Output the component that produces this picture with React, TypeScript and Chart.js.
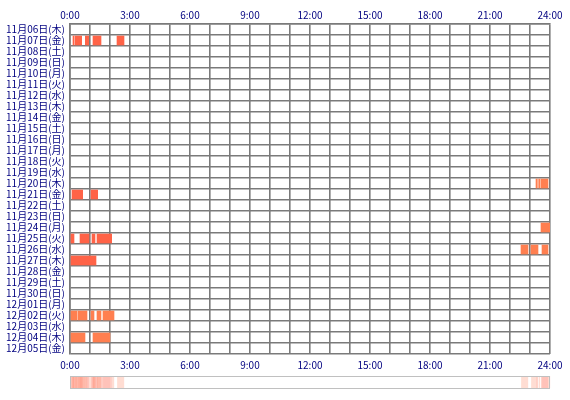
import React, { useEffect, useRef } from "react";
import { Chart, registerables } from "chart.js";

Chart.register(...registerables);

const days: string[] = [
  "11月06日(木)", "11月07日(金)", "11月08日(土)", "11月09日(日)", "11月10日(月)",
  "11月11日(火)", "11月12日(水)", "11月13日(木)", "11月14日(金)", "11月15日(土)",
  "11月16日(日)", "11月17日(月)", "11月18日(火)", "11月19日(水)", "11月20日(木)",
  "11月21日(金)", "11月22日(土)", "11月23日(日)", "11月24日(月)", "11月25日(火)",
  "11月26日(水)", "11月27日(木)", "11月28日(金)", "11月29日(土)", "11月30日(日)",
  "12月01日(月)", "12月02日(火)", "12月03日(水)", "12月04日(木)", "12月05日(金)",
];

// spans in minutes after midnight: [day, start, end]
const redSpans: [string, number, number][] = [
  ["11月07日(金)", 9, 12], ["11月07日(金)", 15, 35], ["11月07日(金)", 46, 56],
  ["11月07日(金)", 69, 93], ["11月07日(金)", 141, 162],
  ["11月21日(金)", 6, 38], ["11月21日(金)", 63, 83],
  ["11月25日(火)", 3, 12], ["11月25日(火)", 30, 57], ["11月25日(火)", 66, 75],
  ["11月25日(火)", 81, 125],
  ["11月27日(木)", 3, 78],
];

const orangeSpans: [string, number, number][] = [
  ["11月20日(木)", 1398, 1402], ["11月20日(木)", 1406, 1410], ["11月20日(木)", 1413, 1434],
  ["11月24日(月)", 1413, 1440],
  ["11月26日(水)", 1353, 1374], ["11月26日(水)", 1383, 1404], ["11月26日(水)", 1416, 1434],
  ["12月02日(火)", 3, 21], ["12月02日(火)", 24, 51], ["12月02日(火)", 63, 72],
  ["12月02日(火)", 81, 93], ["12月02日(火)", 99, 132],
  ["12月04日(木)", 3, 45], ["12月04日(木)", 69, 120],
];

const hourLabels: string[] = ["0:00", "3:00", "6:00", "9:00", "12:00", "15:00", "18:00", "21:00", "24:00"];

const FONT = "'Noto Sans CJK JP', 'DejaVu Sans', sans-serif";
const NAVY = "#000080";
const GRID = "#7a7a7a";

const tickCb = (v: any) => {
  const n = Number(v);
  if (n % 180 === 0) return hourLabels[n / 180];
  return "";
};

const stripPlugin = {
  id: "strip",
  afterDraw(chart: any) {
    const ctx = chart.ctx;
    const xs = chart.scales.x;
    const top = chart.chartArea.bottom + 22;
    const h = 12;
    const counts = new Array(1440).fill(0);
    [...redSpans, ...orangeSpans].forEach(([, s, e]) => {
      for (let m = s; m < e; m++) counts[m]++;
    });
    ctx.save();
    for (let m = 0; m < 1440; m++) {
      if (!counts[m]) continue;
      const a = Math.min(0.5, 0.08 + 0.06 * counts[m]);
      ctx.fillStyle = `rgba(255,110,80,${a})`;
      const x1 = xs.getPixelForValue(m);
      const x2 = xs.getPixelForValue(m + 1);
      ctx.fillRect(x1, top, x2 - x1 + 0.3, h);
    }
    ctx.strokeStyle = "#c0c0c0";
    ctx.lineWidth = 1;
    const l = xs.getPixelForValue(0);
    const r = xs.getPixelForValue(1440);
    ctx.strokeRect(l + 0.5, top + 0.5, r - l - 1, h);
    ctx.restore();
  },
};

export default function App() {
  const ref = useRef<HTMLCanvasElement>(null);
  useEffect(() => {
    if (!ref.current) return;
    const chart = new Chart(ref.current, {
      type: "bar",
      data: {
        labels: days,
        datasets: [
          {
            label: "red",
            data: redSpans.map(([d, s, e]) => ({ y: d, x: [s, e] })) as any,
            backgroundColor: "#ff6347",
            borderWidth: 0,
            barThickness: 9,
            grouped: false,
            xAxisID: "x",
          },
          {
            label: "orange",
            data: orangeSpans.map(([d, s, e]) => ({ y: d, x: [s, e] })) as any,
            backgroundColor: "#ff7f50",
            borderWidth: 0,
            barThickness: 9,
            grouped: false,
            xAxisID: "x",
          },
        ],
      },
      options: {
        indexAxis: "y",
        responsive: false,
        animation: false,
        layout: { padding: { left: 0, right: 20, top: 0, bottom: 0 } },
        plugins: { legend: { display: false }, tooltip: { enabled: false } },
        scales: {
          x: {
            type: "linear",
            position: "top",
            min: 0,
            max: 1440,
            afterFit(s: any) { s.height = 24; },
            ticks: {
              stepSize: 60,
              autoSkip: false,
              maxRotation: 0,
              padding: 3,
              color: NAVY,
              font: { family: FONT, size: 10 },
              callback: tickCb,
            },
            grid: { color: GRID, drawTicks: false, lineWidth: 1.6 },
            border: { color: GRID, width: 1.6 },
          },
          x2: {
            type: "linear",
            position: "bottom",
            min: 0,
            max: 1440,
            afterFit(s: any) { s.height = 46; },
            ticks: {
              stepSize: 60,
              autoSkip: false,
              maxRotation: 0,
              padding: 5,
              color: NAVY,
              font: { family: FONT, size: 10 },
              callback: tickCb,
            },
            grid: { display: false, drawTicks: false },
            border: { display: false },
          },
          y: {
            type: "category",
            offset: true,
            afterFit(s: any) { s.width = 70; },
            ticks: {
              autoSkip: false,
              padding: 5,
              color: NAVY,
              font: { family: FONT, size: 10 },
            },
            grid: { color: GRID, drawTicks: false, offset: true, lineWidth: 1.6 },
            border: { color: GRID, width: 1.6 },
          },
        },
      } as any,
      plugins: [stripPlugin],
    });
    return () => chart.destroy();
  }, []);
  return (
    <div style={{ position: "absolute", left: 0, top: 0, width: 570, height: 400, background: "#fff" }}>
      <canvas ref={ref} width={570} height={400} />
    </div>
  );
}
